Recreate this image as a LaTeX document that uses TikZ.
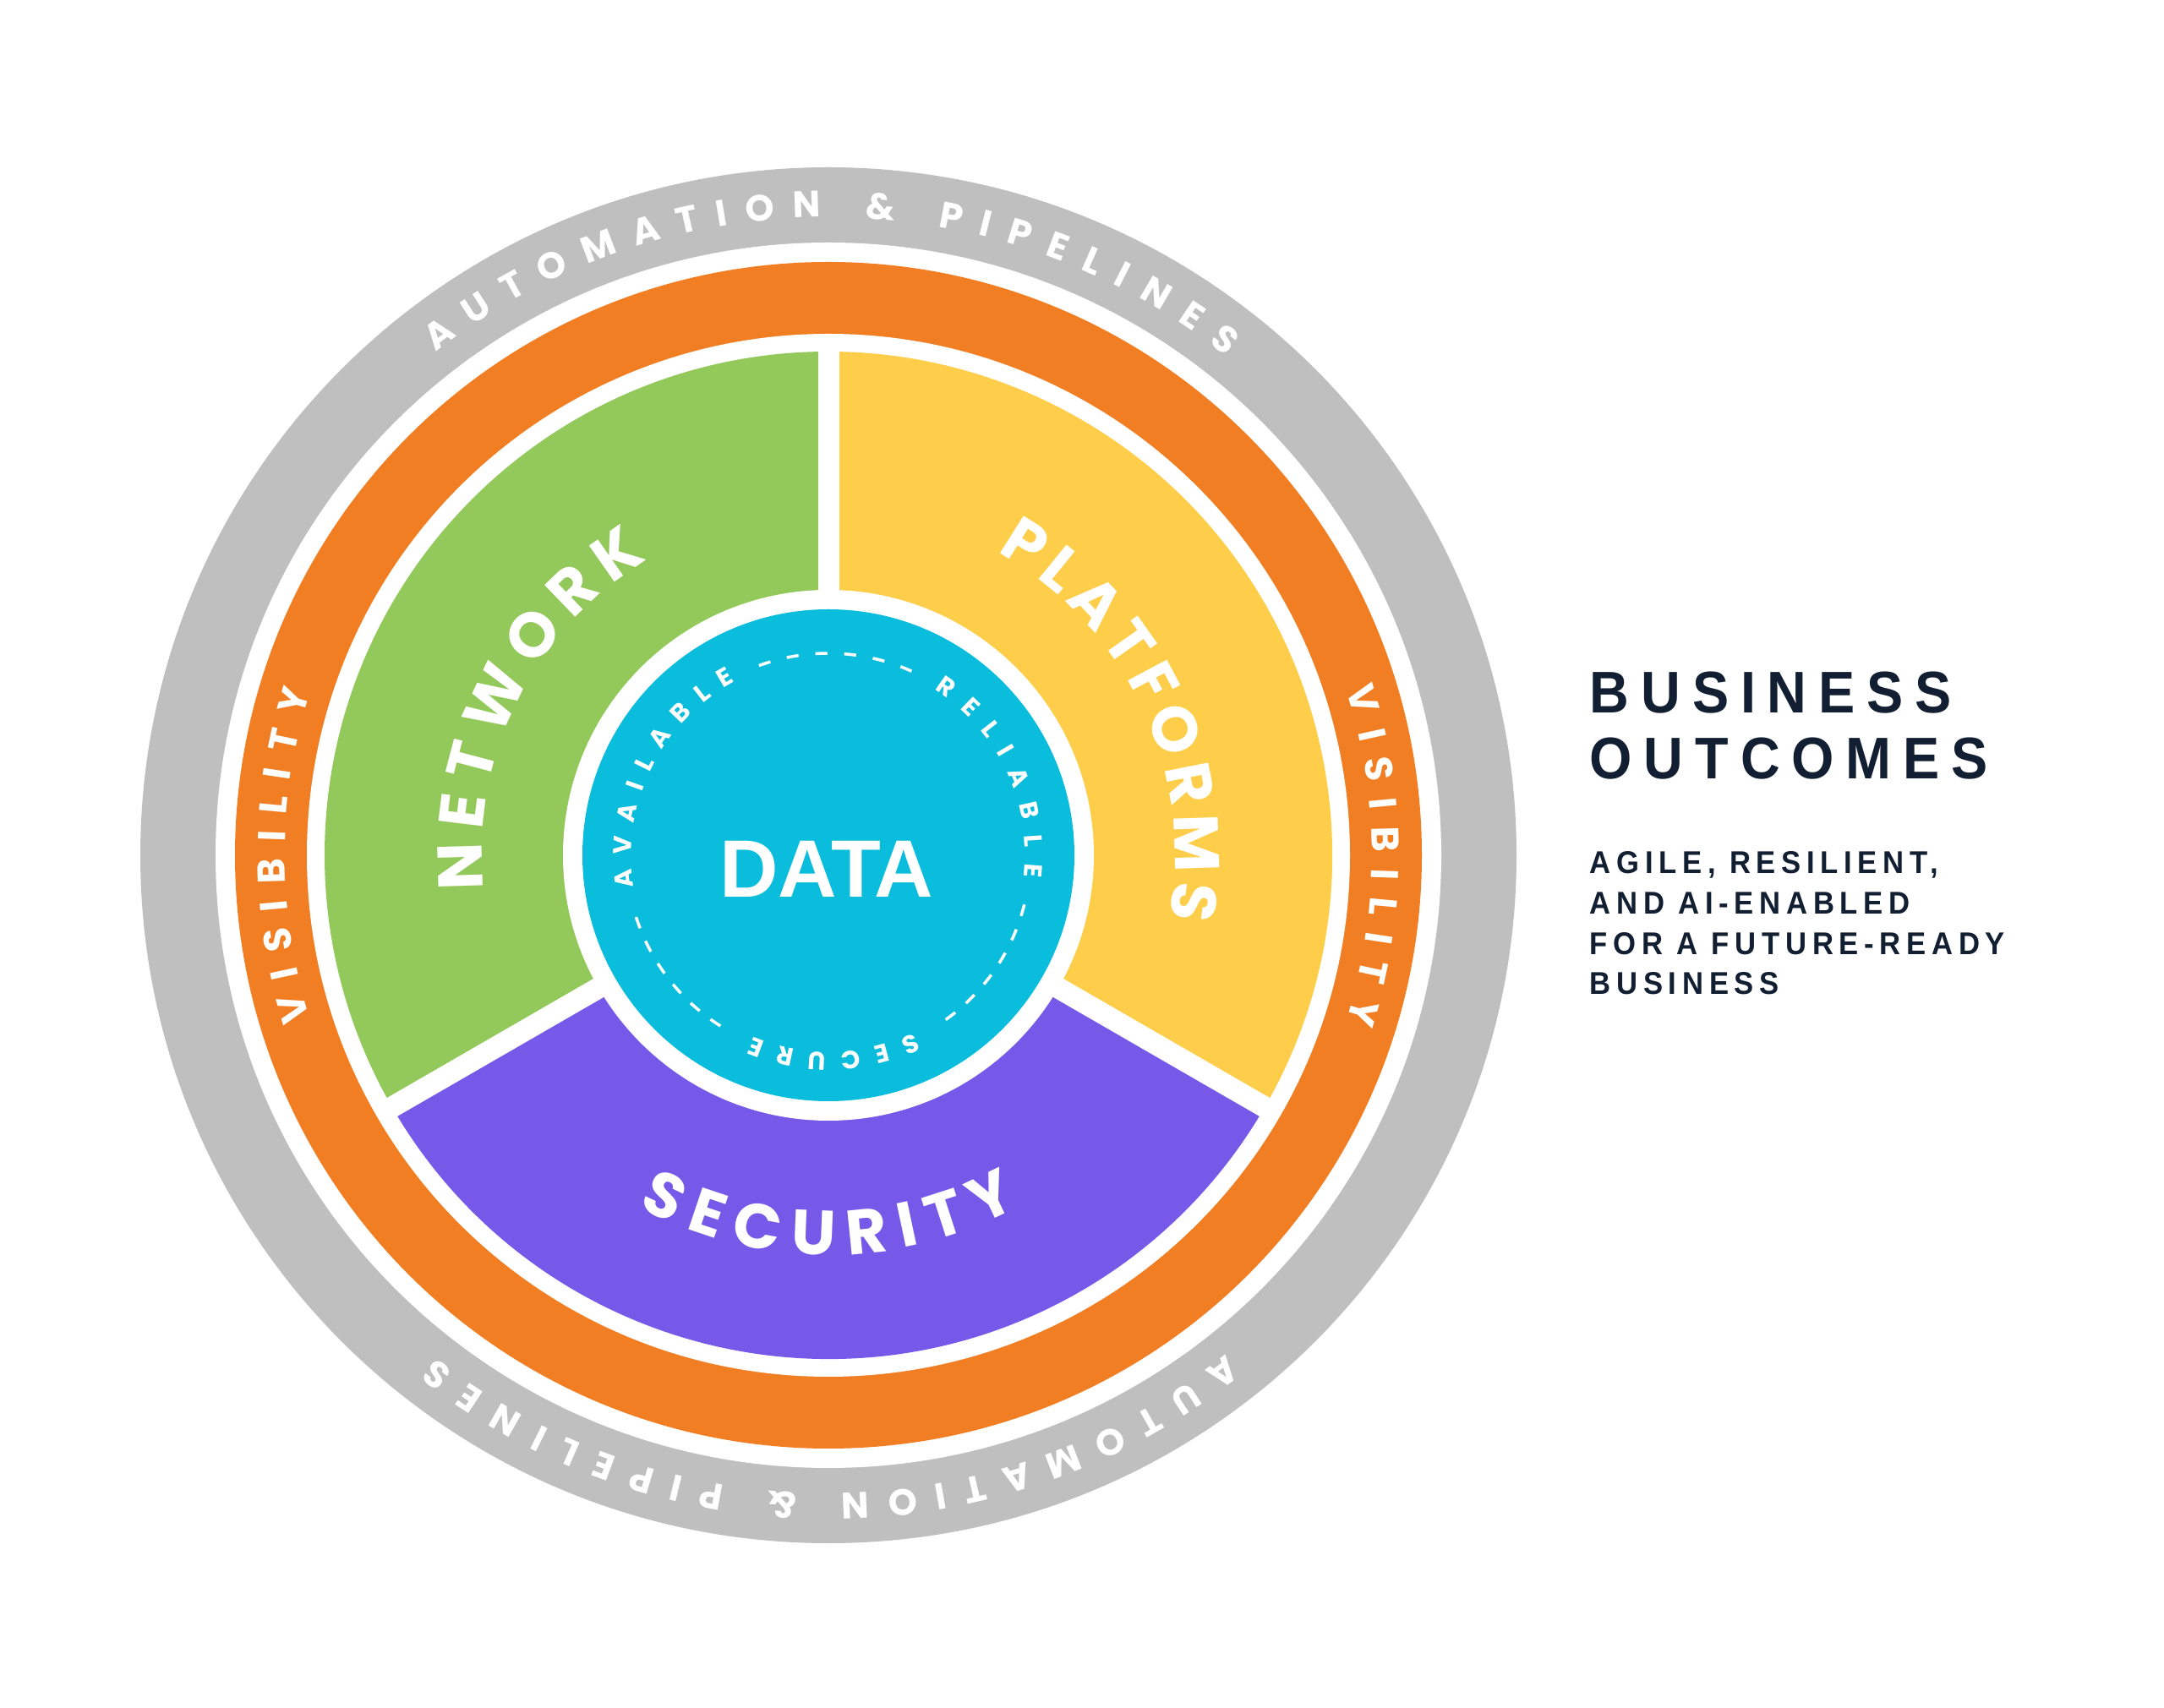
\documentclass[tikz,border=0pt]{standalone}
\usepackage{fontspec}
\usetikzlibrary{decorations.text}

\newfontfamily\popfont{Poppins}
\newfontfamily\datafont{Liberation Sans}
\newfontfamily\headfont{Liberation Sans}[FakeStretch=0.93,LetterSpace=20]
\newfontfamily\subfont{Liberation Sans}[FakeStretch=0.93,LetterSpace=18]

\definecolor{ringgray}{HTML}{C0BFC0}
\definecolor{visorange}{HTML}{F17E23}
\definecolor{netgreen}{HTML}{93C95A}
\definecolor{platyellow}{HTML}{FECE4A}
\definecolor{secpurple}{HTML}{7659E8}
\definecolor{datacyan}{HTML}{0ABDDC}
\definecolor{navy}{HTML}{121E31}

% fonts for the curved words
\newcommand{\ringlabel}{\popfont\bfseries\fontsize{12.4}{14}\selectfont\color{white}}
\newcommand{\bandlabel}{\popfont\bfseries\fontsize{13}{15}\selectfont\color{white}}
\newcommand{\sectorlabel}{\popfont\bfseries\fontsize{21.2}{24}\selectfont\color{white}}
\newcommand{\datalabel}{\popfont\bfseries\fontsize{8.5}{10}\selectfont\color{white}}

\tikzset{
  curved/.style={decorate, decoration={text along path, text align=fit to path, text={#1}}},
  outcome/.style={anchor=base west, inner sep=0pt, text=navy},
}

\begin{document}
\begin{tikzpicture}
    \useasboundingbox (0,0) rectangle (25.6,20.2);
    \coordinate (C) at (9.80,10.08);

    % outer rings
    \fill[ringgray] (C) circle (8.14);
    \fill[white] (C) circle (7.25);
    \fill[visorange] (C) circle (7.02);
    \fill[white] (C) circle (6.17);

    % three sectors and their white gaps
    \foreach \col/\from/\to in {platyellow/-30/90, netgreen/90/210, secpurple/210/330} {
        \fill[\col] (C) -- ([shift={(\from:5.96)}]C)
            arc[start angle=\from, end angle=\to, radius=5.96] -- cycle;
    }
    \foreach \ang in {90,210,330} {
        \draw[white, line width=0.25cm] (C) -- ([shift={(\ang:6.1)}]C);
    }
    \fill[white] (C) circle (3.14);
    \fill[datacyan] (C) circle (2.91);

    % ring words
    \path[curved={|\ringlabel|AUTOMATION {\&} PIPELINES}]
        ([shift={(128:7.55)}]C) arc[start angle=128, end angle=51.5, radius=7.55];
    \path[curved={|\ringlabel|AUTOMATION {\&} PIPELINES}]
        ([shift={(-51.5:7.55)}]C) arc[start angle=-51.5, end angle=-128, radius=7.55];
    \path[curved={|\bandlabel|VISIBILITY}]
        ([shift={(197.5:6.43)}]C) arc[start angle=197.5, end angle=162.5, radius=6.43];
    \path[curved={|\bandlabel|VISIBILITY}]
        ([shift={(17.8:6.43)}]C) arc[start angle=17.8, end angle=-17.8, radius=6.43];

    % sector words
    \path[curved={|\sectorlabel|NETWORK}]
        ([shift={(185.6:4.10)}]C) arc[start angle=185.6, end angle=121.4, radius=4.10];
    \path[curved={|\sectorlabel|PLATFORMS}]
        ([shift={(61:4.10)}]C) arc[start angle=61, end angle=-10.5, radius=4.10];
    \path[curved={|\sectorlabel|SECURITY}]
        ([shift={(-118.5:4.73)}]C) arc[start angle=-118.5, end angle=-61.5, radius=4.73];

    % data circle
    \path[curved={|\datalabel|AVAILABLE}]
        ([shift={(189.3:2.33)}]C) arc[start angle=189.3, end angle=118.3, radius=2.33];
    \path[curved={|\datalabel|RELIABLE}]
        ([shift={(57.4:2.33)}]C) arc[start angle=57.4, end angle=-6.3, radius=2.33];
    \path[curved={|\datalabel|SECURE}]
        ([shift={(-64.3:2.33)}]C) arc[start angle=-64.3, end angle=-112.6, radius=2.33];

    \foreach \s/\e in {108.4/67.4, -15.8/-52.8, 199.5/236} {
        \foreach \k in {0,...,5} {
            \pgfmathsetmacro{\a}{\s+(\e-\s)*\k/5}
            \draw[white, line width=1pt]
                ([shift={({\a+1.7}:2.39)}]C) arc[start angle=\a+1.7, end angle=\a-1.7, radius=2.39];
        }
    }

    \node[inner sep=0pt, text=white, font=\datafont\bfseries\fontsize{27.4}{30}\selectfont]
        (data) at (9.777,9.92) {DATA};

    % business outcomes
    \node[outcome, font=\headfont\bfseries\fontsize{19.8}{23}\selectfont]
        (head1) at (18.80,11.767) {BUSINESS};
    \node[outcome, font=\headfont\bfseries\fontsize{19.8}{23}\selectfont]
        (head2) at (18.80,10.985) {OUTCOMES};
    \foreach \line [count=\i] in {{AGILE, RESILIENT,}, AND AI-ENABLED, FOR A FUTURE-READY, BUSINESS} {
        \node[outcome, font=\subfont\bfseries\fontsize{10.6}{13}\selectfont]
            (sub\i) at (18.80,{9.86-0.4757*(\i-1)}) {\line};
    }
\end{tikzpicture}
\end{document}
